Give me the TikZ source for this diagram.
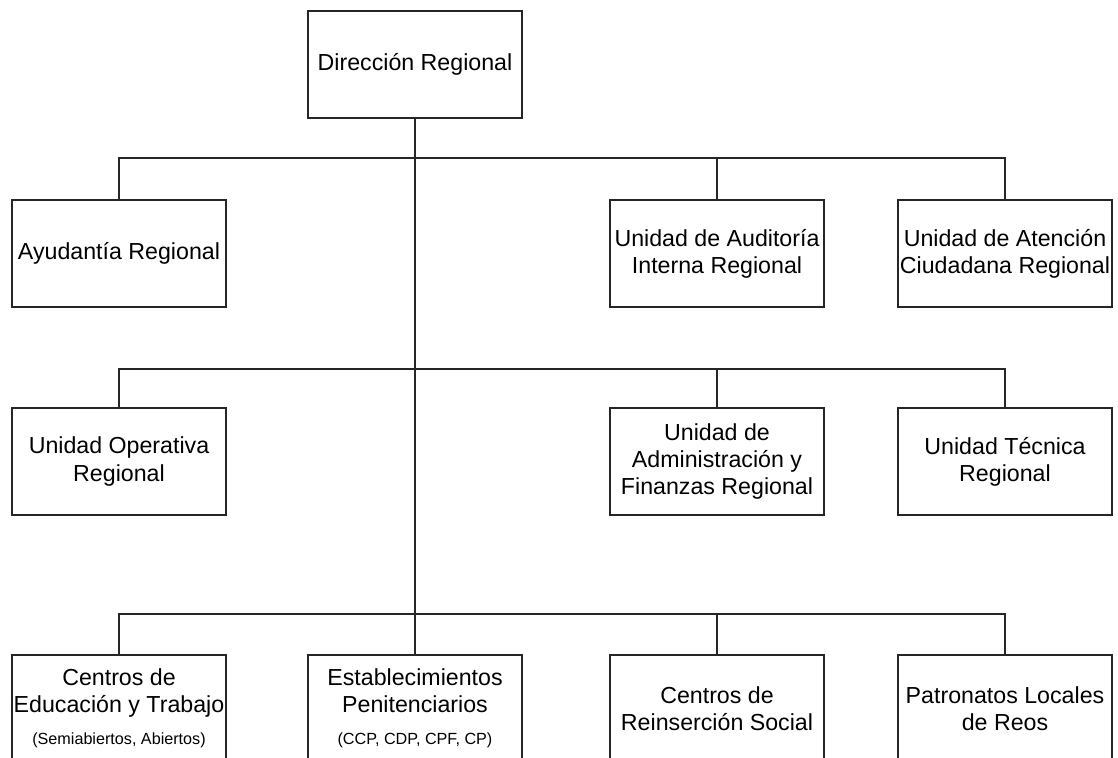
\documentclass[tikz,border=0pt]{standalone}
\usepackage{fontspec}
\setmainfont{Liberation Sans}
\usepackage{tikz}
\usetikzlibrary{positioning}
\newcommand{\notachica}{\fontsize{9.2pt}{11pt}\selectfont}

\begin{document}
\begin{tikzpicture}[x=0.02cm,y=0.02cm,
	caja/.style={draw=black!85,line width=0.8pt,fill=white,inner sep=0pt,
		minimum width=4.28cm,minimum height=2.14cm,align=center,
		font=\fontsize{13.2pt}{15.4pt}\selectfont},
	linea/.style={draw=black!85,line width=0.7pt}]
	\clip (0,0) rectangle (1118,757);
	
	% direccion
	\node[caja] (dir) at (415,692.5) {Dirección Regional};
	
	% primer nivel
	\node[caja] (ayu) at (119,503.5) {Ayudantía Regional};
	\node[caja] (aud) at (717,503.5) {Unidad de Auditoría\\Interna Regional};
	\node[caja] (ate) at (1005,503.5) {Unidad de Atención\\Ciudadana Regional};
	
	% segundo nivel
	\node[caja] (ope) at (119,295.5) {Unidad Operativa\\Regional};
	\node[caja] (adm) at (717,295.5) {Unidad de\\Administración y\\Finanzas Regional};
	\node[caja] (tec) at (1005,295.5) {Unidad Técnica\\Regional};
	
	% tercer nivel (cortado abajo)
	\node[caja] (cet) at (119,48.5) {Centros de\\Educación y Trabajo\\[3pt]{\notachica (Semiabiertos, Abiertos)}};
	\node[caja] (est) at (415,48.5) {Establecimientos\\Penitenciarios\\[3pt]{\notachica (CCP, CDP, CPF, CP)}};
	\node[caja] (crs) at (717,48.5) {Centros de\\Reinserción Social};
	\node[caja] (pat) at (1005,48.5) {Patronatos Locales\\de Reos};
	
	% barras horizontales
	\coordinate (bus1) at (415,599);
	\coordinate (bus2) at (415,388);
	\coordinate (bus3) at (415,143);
	
	%tronco
	\draw[linea] (dir.south) -- (est.north);
	
	\draw[linea] (ayu.north) |- (bus1) -| (ate.north);
	\draw[linea] (aud.north) -- (aud.north |- bus1);
	
	\draw[linea] (ope.north) |- (bus2) -| (tec.north);
	\draw[linea] (adm.north) -- (adm.north |- bus2);
	
	\draw[linea] (cet.north) |- (bus3) -| (pat.north);
	\draw[linea] (crs.north) -- (crs.north |- bus3);
\end{tikzpicture}
\end{document}
